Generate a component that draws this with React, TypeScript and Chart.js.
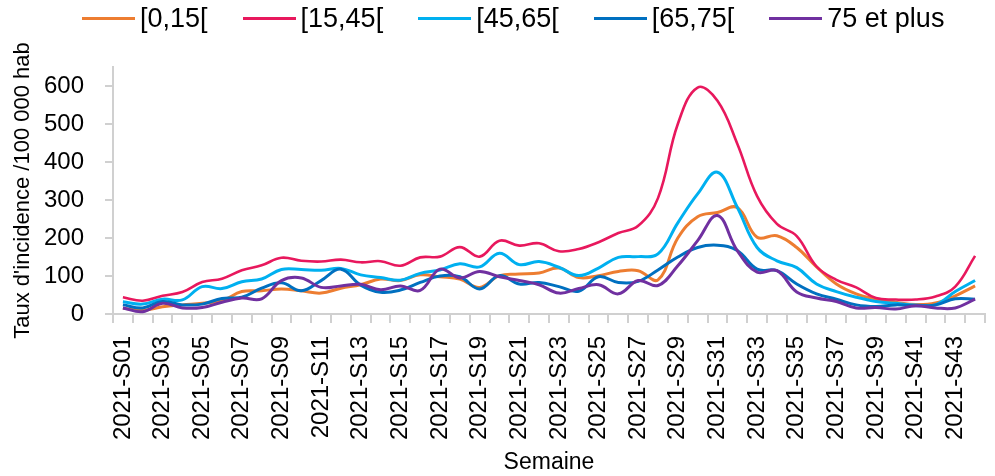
import { useEffect, useRef } from "react";
import { Chart, registerables } from "chart.js";

Chart.register(...registerables);

const weeks = [
  "2021-S01", "2021-S02", "2021-S03", "2021-S04", "2021-S05", "2021-S06", "2021-S07", "2021-S08",
  "2021-S09", "2021-S10", "2021-S11", "2021-S12", "2021-S13", "2021-S14", "2021-S15", "2021-S16",
  "2021-S17", "2021-S18", "2021-S19", "2021-S20", "2021-S21", "2021-S22", "2021-S23", "2021-S24",
  "2021-S25", "2021-S26", "2021-S27", "2021-S28", "2021-S29", "2021-S30", "2021-S31", "2021-S32",
  "2021-S33", "2021-S34", "2021-S35", "2021-S36", "2021-S37", "2021-S38", "2021-S39", "2021-S40",
  "2021-S41", "2021-S42", "2021-S43", "2021-S44",
];

const age0_15 = [15, 10, 19, 24, 28, 35, 59, 61, 66, 61, 55, 68, 77, 92, 88, 103, 98, 92, 70, 101, 105, 108, 121, 96, 101, 112, 114, 90, 200, 256, 267, 280, 202, 206, 175, 124, 79, 53, 39, 31, 25, 29, 48, 74];
const age15_45 = [44, 35, 48, 58, 84, 93, 115, 128, 148, 140, 138, 143, 136, 139, 127, 149, 151, 176, 151, 193, 180, 186, 165, 171, 189, 213, 232, 305, 500, 596, 561, 448, 310, 237, 205, 125, 90, 70, 42, 38, 38, 46, 72, 153];
const age45_65 = [32, 26, 39, 37, 72, 67, 85, 92, 117, 117, 115, 120, 103, 96, 89, 107, 116, 132, 124, 160, 130, 138, 123, 101, 121, 149, 151, 158, 240, 316, 373, 281, 175, 140, 122, 79, 59, 44, 33, 28, 24, 24, 59, 88];
const age65_75 = [24, 16, 33, 24, 26, 41, 44, 68, 82, 61, 88, 118, 76, 57, 63, 83, 100, 98, 66, 101, 79, 83, 72, 60, 98, 83, 86, 116, 150, 175, 181, 167, 118, 114, 79, 53, 39, 24, 20, 24, 22, 24, 40, 39];
const age75plus = [16, 6, 28, 16, 17, 31, 42, 40, 88, 95, 70, 74, 78, 64, 74, 62, 118, 95, 112, 98, 88, 77, 55, 67, 77, 53, 88, 75, 127, 193, 259, 167, 110, 114, 58, 42, 33, 16, 17, 13, 22, 16, 16, 39];

const seriesNames = ["[0,15[", "[15,45[", "[45,65[", "[65,75[", "75 et plus"];
const seriesColors = ["#ED7D31", "#E8185D", "#00B0F0", "#0070C0", "#7030A0"];
const seriesData = [age0_15, age15_45, age45_65, age65_75, age75plus];

const yTitle = "Taux d'incidence /100 000 hab";
const xTitle = "Semaine";

const FONT = "'Liberation Sans', Arial, sans-serif";
const AXIS = "#D0D0D0";

export default function App() {
  const ref = useRef<HTMLCanvasElement | null>(null);

  useEffect(() => {
    if (!ref.current) return;
    const chart = new Chart(ref.current, {
      type: "line",
      data: {
        labels: weeks,
        datasets: seriesNames.map((name, i) => ({
          label: name,
          data: seriesData[i],
          borderColor: seriesColors[i],
          backgroundColor: seriesColors[i],
          borderWidth: i === 1 ? 2.6 : 3,
          pointRadius: 0,
          tension: 0.4,
          fill: false,
          order: seriesNames.length - i,
        })),
      },
      options: {
        animation: false,
        responsive: false,
        maintainAspectRatio: false,
        layout: { padding: { left: 10, right: 10, top: 67, bottom: 0 } },
        plugins: {
          legend: { display: false },
          tooltip: { enabled: false },
        },
        scales: {
          x: {
            type: "category",
            offset: true,
            grid: {
              display: true,
              offset: true,
              drawOnChartArea: false,
              drawTicks: true,
              tickLength: 9,
              color: AXIS,
              lineWidth: 2,
            },
            border: { display: true, color: AXIS, width: 2 },
            ticks: {
              autoSkip: false,
              minRotation: 90,
              maxRotation: 90,
              padding: 13,
              color: "#000",
              font: { family: FONT, size: 24 },
              callback: function (this: any, val: any, index: number) {
                return index % 2 === 0 ? this.getLabelForValue(val) : "";
              },
            },
            title: {
              display: true,
              text: xTitle,
              color: "#000",
              font: { family: FONT, size: 23, lineHeight: 1.2 },
              padding: { top: 0, bottom: 0 },
            },
            afterFit: (scale: any) => {
              scale.height = 162;
              scale.paddingLeft = 0;
              scale.paddingRight = 0;
            },
          },
          y: {
            min: 0,
            max: 650,
            grid: {
              display: true,
              drawOnChartArea: false,
              drawTicks: true,
              tickLength: 8,
              color: AXIS,
              lineWidth: 2,
            },
            border: { display: true, color: AXIS, width: 2 },
            ticks: {
              stepSize: 100,
              includeBounds: false,
              padding: 21,
              color: "#000",
              font: { family: FONT, size: 24 },
            },
            title: {
              display: true,
              text: yTitle,
              color: "#000",
              font: { family: FONT, size: 22, lineHeight: 1.2 },
              padding: { top: 0, bottom: 0 },
            },
            afterFit: (scale: any) => {
              scale.width = 103;
            },
          },
        },
      },
    });
    return () => chart.destroy();
  }, []);

  return (
    <div style={{ position: "fixed", left: 0, top: 0, width: 995, height: 476, background: "#fff" }}>
      <canvas ref={ref} width={995} height={476} style={{ width: 995, height: 476, display: "block" }} />
      <div
        style={{
          position: "absolute",
          left: 82,
          top: 3,
          display: "flex",
          alignItems: "center",
          gap: 35,
          fontFamily: FONT,
          fontSize: 27,
          lineHeight: "30px",
          color: "#000",
          whiteSpace: "nowrap",
        }}
      >
        {seriesNames.map((name, i) => (
          <div key={name} style={{ display: "flex", alignItems: "center", gap: 5 }}>
            <span style={{ display: "inline-block", width: 53, height: 3, background: seriesColors[i] }} />
            <span>{name}</span>
          </div>
        ))}
      </div>
    </div>
  );
}
